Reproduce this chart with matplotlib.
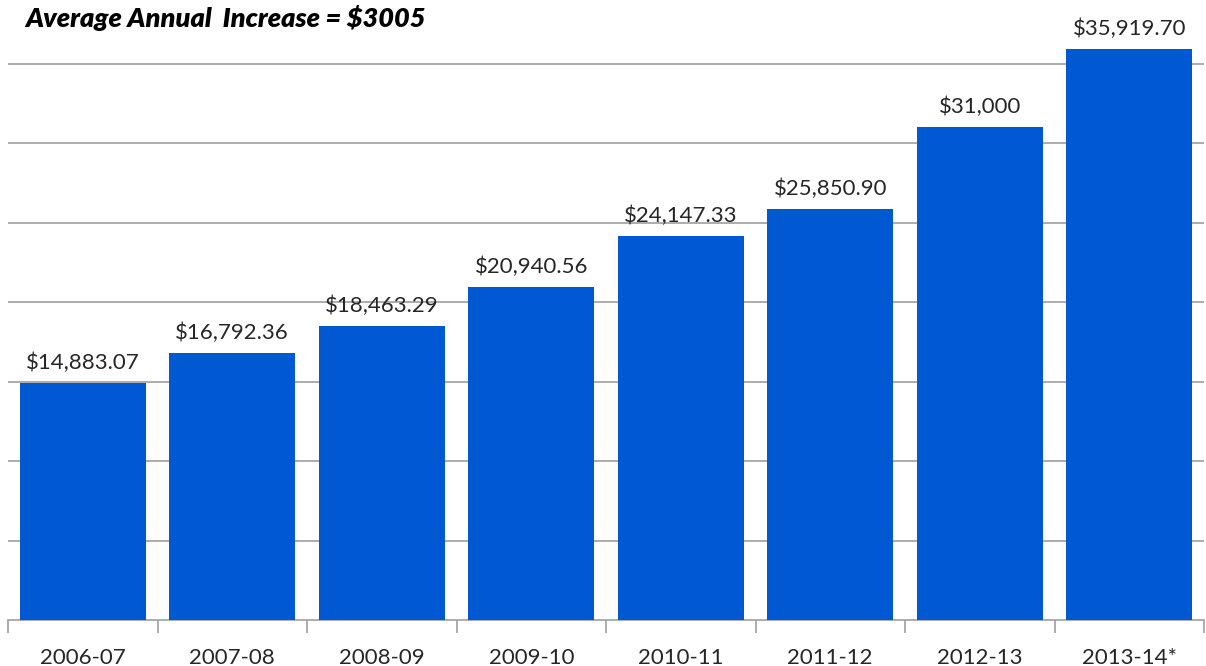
import matplotlib
matplotlib.use("Agg")
import matplotlib.pyplot as plt
import numpy as np

years = ["2006-07", "2007-08", "2008-09", "2009-10", "2010-11", "2011-12", "2012-13", "2013-14*"]
costs = [14883.07, 16792.36, 18463.29, 20940.56, 24147.33, 25850.90, 31000, 35919.70]
cost_labels = ["$14,883.07", "$16,792.36", "$18,463.29", "$20,940.56",
               "$24,147.33", "$25,850.90", "$31,000", "$35,919.70"]

plt.rcParams['font.family'] = ['Lato', 'DejaVu Sans']

fig = plt.figure(figsize=(12.06, 6.66), dpi=100)
ax = fig.add_axes([8 / 1206, 46 / 666, 1196 / 1206, 620 / 666])

x = np.arange(len(years))
bars = ax.bar(x, costs, width=0.84, color="#0058D2", zorder=3)

for b, lab in zip(bars, cost_labels):
    ax.text(b.get_x() + b.get_width() / 2, b.get_height() + 650, lab,
            ha="center", va="bottom", fontsize=16, color="#262626")

ax.set_xlim(-0.5, len(years) - 0.5)
ax.set_ylim(0, 39000)
ax.set_yticks(np.arange(5000, 36000, 5000))
ax.yaxis.grid(True, color="#A6A6A6", linewidth=1.3, zorder=0)
ax.tick_params(axis="y", left=False, labelleft=False)

# category labels centred, tick marks on the boundaries
ax.set_xticks(x)
ax.set_xticklabels(years, fontsize=16, color="#262626")
ax.tick_params(axis="x", length=0, pad=20)
ax.set_xticks(np.arange(-0.5, len(years)), minor=True)
ax.tick_params(axis="x", which="minor", length=9, width=1.3, color="#A6A6A6")

for side in ["left", "right", "top"]:
    ax.spines[side].set_visible(False)
ax.spines["bottom"].set_color("#A6A6A6")
ax.spines["bottom"].set_linewidth(1.3)

fig.text(25 / 1206, 1 - 18 / 666, "Average Annual  Increase = $3005",
         fontsize=19.5, fontweight="heavy", fontstyle="italic", va="center", ha="left", color="black")

fig.savefig("out.png", dpi=100)
